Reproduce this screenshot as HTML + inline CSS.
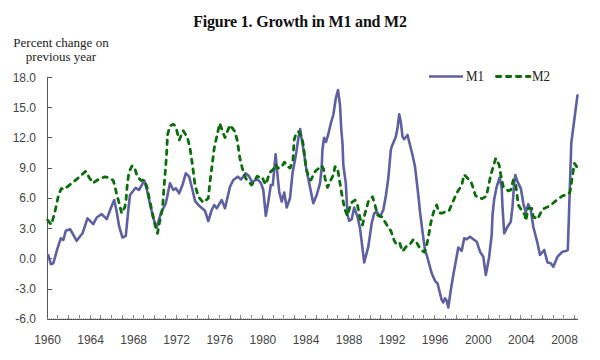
<!DOCTYPE html>
<html><head><meta charset="utf-8"><style>
html,body{margin:0;padding:0;background:#fff;}
body{width:600px;height:360px;position:relative;overflow:hidden;}
.title{position:absolute;left:0;top:12px;width:600px;text-align:center;font:bold 16px/20px "Liberation Serif",serif;color:#111;letter-spacing:-0.2px;transform:scaleY(1.05);}
.yt{position:absolute;left:8px;top:36px;width:106px;text-align:center;font:13px/14px "Liberation Serif",serif;color:#222;}
.yl{position:absolute;left:0;width:36px;text-align:right;font:12px/16px "Liberation Sans",sans-serif;color:#444;}
.xl{position:absolute;top:332px;width:40px;text-align:center;font:12px/16px "Liberation Sans",sans-serif;color:#444;}
.lg{position:absolute;top:68px;font:13px/16px "Liberation Serif",serif;color:#222;transform:scaleY(1.12);transform-origin:0 0;}
svg{position:absolute;left:0;top:0;}
</style></head><body>
<div class="title">Figure 1. Growth in M1 and M2</div>
<div class="yt">Percent change on<br>previous year</div>
<div class="yl" style="top:69.5px">18.0</div><div class="yl" style="top:99.5px">15.0</div><div class="yl" style="top:129.5px">12.0</div><div class="yl" style="top:160.0px">9.0</div><div class="yl" style="top:190.0px">6.0</div><div class="yl" style="top:220.5px">3.0</div><div class="yl" style="top:250.5px">0.0</div><div class="yl" style="top:281.0px">-3.0</div><div class="yl" style="top:311.0px">-6.0</div>
<div class="xl" style="left:27.5px">1960</div><div class="xl" style="left:70.6px">1964</div><div class="xl" style="left:113.7px">1968</div><div class="xl" style="left:156.7px">1972</div><div class="xl" style="left:199.8px">1976</div><div class="xl" style="left:242.9px">1980</div><div class="xl" style="left:286.0px">1984</div><div class="xl" style="left:329.1px">1988</div><div class="xl" style="left:372.1px">1992</div><div class="xl" style="left:415.2px">1996</div><div class="xl" style="left:458.3px">2000</div><div class="xl" style="left:501.4px">2004</div><div class="xl" style="left:544.5px">2008</div>
<svg width="600" height="360" viewBox="0 0 600 360">
<g fill="#555" shape-rendering="crispEdges">
<rect x="47" y="77" width="1" height="243"/>
<rect x="47" y="319" width="531" height="1"/>
<rect x="47" y="77" width="5" height="1"/><rect x="47" y="107" width="5" height="1"/><rect x="47" y="137" width="5" height="1"/><rect x="47" y="168" width="5" height="1"/><rect x="47" y="198" width="5" height="1"/><rect x="47" y="228" width="5" height="1"/><rect x="47" y="258" width="5" height="1"/><rect x="47" y="289" width="5" height="1"/><rect x="47" y="319" width="5" height="1"/>
<rect x="57" y="315" width="1" height="4" fill="#888"/><rect x="68" y="315" width="1" height="4" fill="#888"/><rect x="79" y="315" width="1" height="4" fill="#888"/><rect x="90" y="315" width="1" height="4" fill="#888"/><rect x="100" y="315" width="1" height="4" fill="#888"/><rect x="111" y="315" width="1" height="4" fill="#888"/><rect x="122" y="315" width="1" height="4" fill="#888"/><rect x="133" y="315" width="1" height="4" fill="#888"/><rect x="143" y="315" width="1" height="4" fill="#888"/><rect x="154" y="315" width="1" height="4" fill="#888"/><rect x="165" y="315" width="1" height="4" fill="#888"/><rect x="176" y="315" width="1" height="4" fill="#888"/><rect x="187" y="315" width="1" height="4" fill="#888"/><rect x="197" y="315" width="1" height="4" fill="#888"/><rect x="208" y="315" width="1" height="4" fill="#888"/><rect x="219" y="315" width="1" height="4" fill="#888"/><rect x="230" y="315" width="1" height="4" fill="#888"/><rect x="240" y="315" width="1" height="4" fill="#888"/><rect x="251" y="315" width="1" height="4" fill="#888"/><rect x="262" y="315" width="1" height="4" fill="#888"/><rect x="273" y="315" width="1" height="4" fill="#888"/><rect x="283" y="315" width="1" height="4" fill="#888"/><rect x="294" y="315" width="1" height="4" fill="#888"/><rect x="305" y="315" width="1" height="4" fill="#888"/><rect x="316" y="315" width="1" height="4" fill="#888"/><rect x="327" y="315" width="1" height="4" fill="#888"/><rect x="337" y="315" width="1" height="4" fill="#888"/><rect x="348" y="315" width="1" height="4" fill="#888"/><rect x="359" y="315" width="1" height="4" fill="#888"/><rect x="370" y="315" width="1" height="4" fill="#888"/><rect x="380" y="315" width="1" height="4" fill="#888"/><rect x="391" y="315" width="1" height="4" fill="#888"/><rect x="402" y="315" width="1" height="4" fill="#888"/><rect x="413" y="315" width="1" height="4" fill="#888"/><rect x="423" y="315" width="1" height="4" fill="#888"/><rect x="434" y="315" width="1" height="4" fill="#888"/><rect x="445" y="315" width="1" height="4" fill="#888"/><rect x="456" y="315" width="1" height="4" fill="#888"/><rect x="467" y="315" width="1" height="4" fill="#888"/><rect x="477" y="315" width="1" height="4" fill="#888"/><rect x="488" y="315" width="1" height="4" fill="#888"/><rect x="499" y="315" width="1" height="4" fill="#888"/><rect x="510" y="315" width="1" height="4" fill="#888"/><rect x="520" y="315" width="1" height="4" fill="#888"/><rect x="531" y="315" width="1" height="4" fill="#888"/><rect x="542" y="315" width="1" height="4" fill="#888"/><rect x="553" y="315" width="1" height="4" fill="#888"/><rect x="563" y="315" width="1" height="4" fill="#888"/><rect x="574" y="315" width="1" height="4" fill="#888"/>
</g>
<line x1="47" y1="318.5" x2="578" y2="318.5" stroke="#bbb" stroke-width="1" stroke-dasharray="1 1" shape-rendering="crispEdges"/>
<polyline fill="none" stroke="#5f5fa3" stroke-width="2.6" stroke-linejoin="round" points="48,254.2 50.8,264.2 53.3,263.3 57.5,248.3 60.8,238.3 63.3,240 65.8,230.8 70,229.2 72.5,233.3 76.7,240.8 82.5,233.3 87.5,218.3 93.3,224.2 96.7,217.5 101.7,214.2 106.7,219.2 110.8,208.3 114.2,200 116.7,211.7 119.2,226.7 122.5,237.5 125.8,235.8 128.3,210 130,195 132.2,192.2 135.6,187.8 138.9,190 142.2,184.4 144.4,180.6 147.2,191.1 150,204 153.3,218.3 156.7,227.5 160.8,213.3 165.8,203.3 170,183.3 173.3,190 175.8,188.3 179.2,193.3 182.5,185 185.8,173.3 189.2,176.7 192.5,190 195,200.8 199.2,205.8 205,210.8 208.3,221 211.7,210 214.2,205 216.7,208.3 221.7,200 225,208.3 230,186.7 233.3,180 237.8,176.7 241.1,179.4 245.6,173.3 248.9,176.1 252.2,182.2 255.6,180 258.3,180 261.1,183.3 263.3,190 265.8,215.8 268.3,201.7 270.8,185 272.8,185 275.6,154.4 277.2,172.2 279.2,191.7 281.7,201.7 284.2,192.5 286.7,207.5 290,198.3 292.5,173.3 295.8,155.6 298.6,136.7 300.2,129 301.3,136.7 303,146.7 304.7,157.8 306.3,168.9 309.2,183.3 313.3,203.3 316.7,195 320,183.3 321.7,168 322.4,150 324.1,137.8 326,142 328.3,134.2 330.8,123.3 333.3,115 335.8,98.3 338,90 340,105 341.3,130 342.5,143.3 343.3,165 345.8,183.3 347.5,215 349.2,220.8 351.7,219.2 354.2,207.5 357.5,216.7 360,228.3 362.5,248.3 364.2,262.5 368.3,246.7 371.7,223.3 374.2,213.3 376.7,211.7 380,216.7 383.3,210 386,195 388.3,178.3 390.8,150 391.7,146.7 395.8,136.7 397.5,128.3 399.2,114.2 400.8,121.7 402.5,136.7 404.2,139.2 407.5,135 410,145 412.5,155 415,166.7 418.3,195 420,211.7 422.5,231.7 425,250 426.7,255 431.7,273.3 435,280.8 437.5,283.3 439.2,290 441.7,300 443.3,302.5 445,298.3 446.7,300.8 448.3,307.5 450.8,290 453.3,275 458.3,247.5 461.7,250.8 464.2,238.3 466.7,239.2 470,236.7 473.3,239.2 476.7,241.7 480,251.7 483.3,256.7 485.8,275 489,258 491.7,235 492.5,215 494.2,199.2 496.7,186.7 499.7,177.5 501.7,188.3 502.5,206.7 504.2,233.3 507.5,226.7 510.8,221.7 512.5,206.7 514.2,183.3 515.3,175 517.5,181.7 520.8,188.3 523.3,203.3 525.8,212.5 528.3,204.2 530.8,210 533.3,226.7 536.7,240 537.5,243.3 540,255 544.2,250 547.5,262.5 550.8,263.3 553.3,266.7 557.5,256.7 562.5,251.7 566.7,250.8 567.8,250 571.3,143 577.6,94.4"/>
<polyline fill="none" stroke="#0a6e0a" stroke-width="2.8" stroke-dasharray="4.4 5.6" stroke-linecap="round" stroke-linejoin="round" points="47.7,220.2 51.3,224.7 54.9,212 58.6,194.8 61.3,188.5 64,189.4 68.5,185.8 77.5,178.6 85.7,171.3 89.3,177.7 92.9,183.1 98.3,179.5 104.7,176.8 110,177.8 113.3,180.6 115,186.7 116.7,194.4 118.3,200 121.7,213.3 125,206.7 126.1,198.9 127.2,185.6 128.9,172.2 132.2,165.7 135,168.9 137.2,176.7 141.1,180.6 143.9,180 146.7,186 149.3,198.5 151.7,210 155,225 157.5,233.3 160,220 162.5,208.3 164.2,185 165.8,165 166.7,151.7 167.5,135 170,125.8 173.3,124.2 175.8,126.7 179.2,140 183.3,130.8 187.5,137.5 190,148.3 192.5,165 195,185 198.3,196.7 203.3,202.5 208.3,198.3 210,181.7 212,166 214.2,148.3 217.5,133.3 219.7,123.3 223.3,133.3 225,137.5 230,125 235,131.7 237.5,141.7 240,158.9 242.2,167.8 243.9,173.3 246.1,178.9 248.9,181.7 251.7,185 254.4,181.1 257.2,176.1 260,177.8 262.2,177.2 264.4,182.2 266.1,184.4 268.3,176.7 270,172.2 273.3,169.4 275.6,164.4 277.8,168.3 281.7,166.7 284.4,162.2 287.8,166.7 290.2,168 293,160 294.1,140 296.3,132.8 299.1,131.7 301.9,137.8 303.6,146.7 304.7,156.7 305.8,166.7 307.5,173.3 310.8,180 315.5,171 318,169 321.5,165.7 323.6,169 325,178.3 327.5,187.5 330.8,180 333.3,175 335,166.7 337.5,168.3 340,183.3 342.5,198.3 345,210 347.5,215.8 350.8,203.3 355,200 357.5,205 360,218.3 362.5,225 365,213.3 368.3,201.7 372.5,196.7 375,205 377.5,215 381.7,216.7 386.9,225 390.8,230.8 392.3,234.7 394.2,240.6 396.2,244 399.6,242.5 400.6,245.9 402.5,251.3 406.4,246.4 409.3,245.4 413.2,239.6 416.1,241.5 419,246.9 421,249.8 424.4,252.2 427.3,242.5 428.8,234.7 430.2,226 431.7,218.9 433.9,211.1 436.7,205 438.9,212.2 441.1,213.3 444.4,212.2 448.9,211.1 452.2,203.3 455.6,195.6 457.8,191.3 461.7,185.4 464.1,174.7 467,177.6 470.9,181.5 473.3,188.3 475.3,195.2 478.2,198.1 482.1,198.6 486.5,196.1 488.4,186.4 490.4,176.7 492.8,167.9 495.8,158.3 499.2,165 500.8,175 503.3,186.7 508.3,190.8 510.8,190 513.3,180 515.8,185 518.3,205 522.5,211.7 525,215 525.8,220.8 528.3,208.3 531.7,208.3 533.3,216.7 537.5,219.2 542.5,209.2 550,205.8 556.7,200 562.5,195.8 568.3,194.2 570,192 574.4,163.3 576.7,166.7"/>
<line x1="429" y1="76.5" x2="463" y2="76.5" stroke="#5f5fa3" stroke-width="2.6"/>
<line x1="496.4" y1="76.5" x2="530" y2="76.5" stroke="#0a6e0a" stroke-width="2.8" stroke-dasharray="4.4 5.6" stroke-linecap="round"/>
</svg>
<div class="lg" style="left:466px">M1</div>
<div class="lg" style="left:532px">M2</div>
</body></html>
